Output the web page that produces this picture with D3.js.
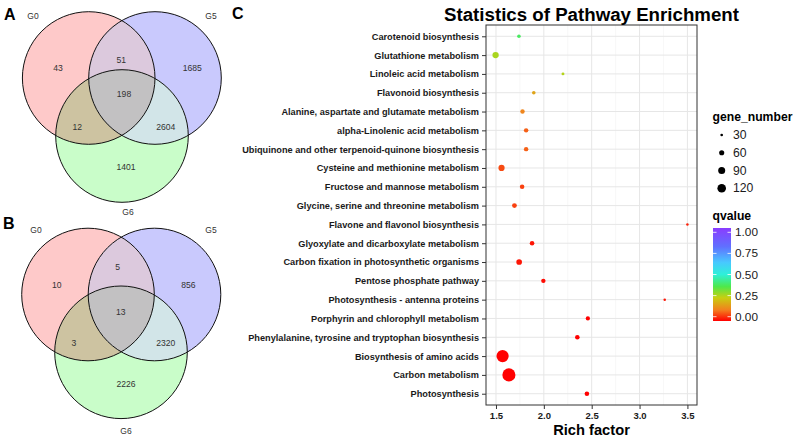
<!DOCTYPE html>
<html>
<head>
<meta charset="utf-8">
<script src="https://cdn.jsdelivr.net/npm/d3@7"></script>
<style>
  html, body { margin: 0; padding: 0; background: #fff; }
  svg { display: block; font-family: "Liberation Sans", Arial, Helvetica, sans-serif; }
  svg text { font-family: "Liberation Sans", Arial, Helvetica, sans-serif; }
</style>
</head>
<body>
<svg id="chart" width="800" height="440"></svg>
<script>
// ---------------- DATA ----------------
const vennSets = ["G0", "G5", "G6"];
// region order: G0 only, G0∩G5, G5 only, all three, G0∩G6, G5∩G6, G6 only
const vennRegions = ["G0", "G0G5", "G5", "G0G5G6", "G0G6", "G5G6", "G6"];
const vennA = [43, 51, 1685, 198, 12, 2604, 1401];
const vennB = [10, 5, 856, 13, 3, 2320, 2226];

const pathways = [
  "Carotenoid biosynthesis",
  "Glutathione metabolism",
  "Linoleic acid metabolism",
  "Flavonoid biosynthesis",
  "Alanine, aspartate and glutamate metabolism",
  "alpha-Linolenic acid metabolism",
  "Ubiquinone and other terpenoid-quinone biosynthesis",
  "Cysteine and methionine metabolism",
  "Fructose and mannose metabolism",
  "Glycine, serine and threonine metabolism",
  "Flavone and flavonol biosynthesis",
  "Glyoxylate and dicarboxylate metabolism",
  "Carbon fixation in photosynthetic organisms",
  "Pentose phosphate pathway",
  "Photosynthesis - antenna proteins",
  "Porphyrin and chlorophyll metabolism",
  "Phenylalanine, tyrosine and tryptophan biosynthesis",
  "Biosynthesis of amino acids",
  "Carbon metabolism",
  "Photosynthesis"
];
const richFactor = [1.74, 1.496, 2.20, 1.895, 1.777, 1.815, 1.815, 1.558, 1.773, 1.693,
                    3.50, 1.877, 1.742, 1.995, 3.263, 2.46, 2.35, 1.569, 1.635, 2.45];
const geneNumber = [40, 78, 32, 40, 50, 50, 50, 76, 52, 55,
                    28, 52, 68, 50, 28, 48, 52, 205, 228, 52];
const qValue = [0.39, 0.28, 0.27, 0.18, 0.13, 0.09, 0.09, 0.07, 0.06, 0.06,
                0.03, 0.02, 0.02, 0.01, 0.02, 0.0, 0.0, 0.0, 0.0, 0.0];

const xTicks = [1.5, 2.0, 2.5, 3.0, 3.5];
const sizeBreaks = [30, 60, 90, 120];
const qBreaks = [0, 0.25, 0.5, 0.75, 1.0];
const qStops = [0, 0.12, 0.25, 0.37, 0.5, 0.63, 0.8, 1.0];
const qColors = ["#ff0000", "#f2801e", "#c8cf10", "#4ee84a", "#2ef0d8", "#48c8ff", "#6070ff", "#8a3cff"];

// ---------------- SVG ----------------
const svg = d3.select("#chart");
const FONT = "'Liberation Sans', Arial, Helvetica, sans-serif";

// ---------------- VENN ----------------
const vennColors = {
  G0: "#fec9c9", G5: "#c9c9fd", G6: "#c9fdc9",
  G0G5: "#dcc9dd", G0G6: "#cdc3a1", G5G6: "#d2e5e8", G0G5G6: "#c2c1c2"
};

function drawVenn(g, id, centers, r, counts, labelPos, countPos) {
  const defs = g.append("defs");
  vennSets.forEach((s, i) => {
    defs.append("clipPath").attr("id", id + s)
      .append("circle").attr("cx", centers[i][0]).attr("cy", centers[i][1]).attr("r", r);
  });
  vennSets.forEach((s, i) => {
    g.append("circle").attr("cx", centers[i][0]).attr("cy", centers[i][1]).attr("r", r)
      .attr("fill", vennColors[s]);
  });
  const pairs = [[0, 1, "G0G5"], [0, 2, "G0G6"], [1, 2, "G5G6"]];
  pairs.forEach(([a, b, k]) => {
    g.append("circle").attr("cx", centers[b][0]).attr("cy", centers[b][1]).attr("r", r)
      .attr("clip-path", `url(#${id}${vennSets[a]})`)
      .attr("fill", vennColors[k]);
  });
  g.append("g").attr("clip-path", `url(#${id}G0)`)
    .append("g").attr("clip-path", `url(#${id}G5)`)
    .append("circle").attr("cx", centers[2][0]).attr("cy", centers[2][1]).attr("r", r)
    .attr("fill", vennColors.G0G5G6);
  vennSets.forEach((s, i) => {
    g.append("circle").attr("cx", centers[i][0]).attr("cy", centers[i][1]).attr("r", r)
      .attr("fill", "none").attr("stroke", "#111").attr("stroke-width", 1);
  });
  vennSets.forEach((s, i) => {
    g.append("text").attr("x", labelPos[i][0]).attr("y", labelPos[i][1])
      .attr("text-anchor", "middle").attr("dominant-baseline", "central")
      .attr("font-size", 8.5).attr("fill", "#333").text(s);
  });
  counts.forEach((c, i) => {
    g.append("text").attr("x", countPos[i][0]).attr("y", countPos[i][1])
      .attr("text-anchor", "middle").attr("dominant-baseline", "central")
      .attr("font-size", 8.6).attr("fill", "#333").text(c);
  });
}

const gA = svg.append("g");
drawVenn(gA, "vA", [[88.7, 78], [155, 78], [122, 136]], 66.3, vennA,
  [[33, 16], [211, 16], [128, 212]],
  [[58, 68.3], [121.3, 60], [192.3, 68.3], [124, 94], [77.3, 126.7], [165.7, 126.7], [126, 166.7]]);

const gB = svg.append("g");
drawVenn(gB, "vB", [[88, 294.5], [154.5, 294.5], [121, 352.3]], 66.3, vennB,
  [[36, 230], [211, 230], [126, 431]],
  [[56.7, 285.3], [117.7, 267.3], [188.3, 285.3], [120.7, 311.7], [74, 342.7], [165.7, 342.7], [126, 384.3]]);

svg.append("text").attr("x", 4).attr("y", 20).attr("font-size", 16).attr("font-weight", "bold").text("A");
svg.append("text").attr("x", 3).attr("y", 228.5).attr("font-size", 16).attr("font-weight", "bold").text("B");
svg.append("text").attr("x", 232).attr("y", 18.5).attr("font-size", 16).attr("font-weight", "bold").text("C");

// ---------------- DOT PLOT ----------------
const plot = { left: 486, right: 697, top: 25, bottom: 405 };
const ext = d3.extent(richFactor);
const pad = (ext[1] - ext[0]) * 0.05;
const x = d3.scaleLinear().domain([ext[0] - pad, ext[1] + pad]).range([plot.left, plot.right]);
const step = (plot.bottom - plot.top) / (pathways.length - 1 + 1.2);
const y = d3.scalePoint().domain(pathways)
  .range([plot.top + 0.6 * step, plot.bottom - 0.6 * step]);
const rScale = d3.scaleSqrt().domain([30, 120]).range([1.35, 4.3]);
const color = d3.scaleLinear().domain(qStops).range(qColors);

const gp = svg.append("g");
gp.append("rect").attr("x", plot.left).attr("y", plot.top)
  .attr("width", plot.right - plot.left).attr("height", plot.bottom - plot.top).attr("fill", "#fff");

const minor = d3.range(1.25, 3.8, 0.5).filter(v => v > x.domain()[0] && v < x.domain()[1]);
gp.selectAll("line.minor").data(minor).enter().append("line")
  .attr("x1", d => x(d)).attr("x2", d => x(d)).attr("y1", plot.top).attr("y2", plot.bottom)
  .attr("stroke", "#f2f2f2").attr("stroke-width", 0.6);
gp.selectAll("line.vmajor").data(xTicks).enter().append("line")
  .attr("x1", d => x(d)).attr("x2", d => x(d)).attr("y1", plot.top).attr("y2", plot.bottom)
  .attr("stroke", "#e6e6e6").attr("stroke-width", 1);
gp.selectAll("line.hmajor").data(pathways).enter().append("line")
  .attr("x1", plot.left).attr("x2", plot.right).attr("y1", d => y(d)).attr("y2", d => y(d))
  .attr("stroke", "#e6e6e6").attr("stroke-width", 1);

const pts = pathways.map((p, i) => ({ p, rf: richFactor[i], n: geneNumber[i], q: qValue[i] }))
  .sort((a, b) => b.n - a.n);
gp.selectAll("circle.pt").data(pts).enter().append("circle")
  .attr("cx", d => x(d.rf)).attr("cy", d => y(d.p)).attr("r", d => rScale(d.n))
  .attr("fill", d => color(d.q));

gp.append("rect").attr("x", plot.left).attr("y", plot.top)
  .attr("width", plot.right - plot.left).attr("height", plot.bottom - plot.top)
  .attr("fill", "none").attr("stroke", "#333").attr("stroke-width", 1);

const yAxis = d3.axisLeft(y).tickSize(4).tickPadding(3);
const yg = svg.append("g").attr("transform", `translate(${plot.left},0)`).call(yAxis)
  .attr("font-family", FONT);
yg.select(".domain").remove();
yg.selectAll("line").attr("stroke", "#333");
yg.selectAll("text").attr("font-size", 9.2).attr("font-weight", "bold").attr("fill", "#1a1a1a")
  .style("font-family", FONT);

const xAxis = d3.axisBottom(x).tickValues(xTicks).tickFormat(d3.format(".1f")).tickSize(4).tickPadding(3);
const xg = svg.append("g").attr("transform", `translate(0,${plot.bottom})`).call(xAxis)
  .attr("font-family", FONT);
xg.select(".domain").remove();
xg.selectAll("line").attr("stroke", "#333");
xg.selectAll("text").attr("font-size", 9.5).attr("font-weight", "bold").attr("fill", "#1a1a1a")
  .style("font-family", FONT);

svg.append("text").attr("x", (plot.left + plot.right) / 2).attr("y", 435)
  .attr("text-anchor", "middle").attr("font-size", 14.7).attr("font-weight", "bold").text("Rich factor");
svg.append("text").attr("x", (plot.left + plot.right) / 2).attr("y", 20.5)
  .attr("text-anchor", "middle").attr("font-size", 18.7).attr("font-weight", "bold")
  .text("Statistics of Pathway Enrichment");

// size legend
const lg = svg.append("g");
lg.append("text").attr("x", 712.5).attr("y", 121).attr("font-size", 12.2).attr("font-weight", "bold")
  .text("gene_number");
const sizeY = d3.scalePoint().domain(sizeBreaks).range([135, 188.3]);
lg.selectAll("circle.sz").data(sizeBreaks).enter().append("circle")
  .attr("cx", 721.7).attr("cy", d => sizeY(d)).attr("r", d => rScale(d)).attr("fill", "#000");
lg.selectAll("text.sz").data(sizeBreaks).enter().append("text")
  .attr("x", 733).attr("y", d => sizeY(d)).attr("dominant-baseline", "central")
  .attr("font-size", 12.2).attr("fill", "#1a1a1a").text(d => d);

// colour legend
lg.append("text").attr("x", 712.5).attr("y", 219.5).attr("font-size", 12.2).attr("font-weight", "bold")
  .text("qvalue");
const defs = svg.append("defs");
const grad = defs.append("linearGradient").attr("id", "qgrad")
  .attr("x1", 0).attr("y1", 1).attr("x2", 0).attr("y2", 0);
qStops.forEach((s, i) => grad.append("stop").attr("offset", s).attr("stop-color", qColors[i]));
const barTop = 228, barBot = 321, barX = 713, barW = 18;
const qy = d3.scaleLinear().domain([0, 1]).range([barBot - 4.3, barTop + 4.3]);
lg.append("rect").attr("x", barX).attr("y", barTop).attr("width", barW).attr("height", barBot - barTop)
  .attr("fill", "url(#qgrad)");
lg.selectAll("g.qt").data(qBreaks).enter().append("g").each(function (d) {
  const g = d3.select(this);
  g.append("line").attr("x1", barX).attr("x2", barX + 3.5).attr("y1", qy(d)).attr("y2", qy(d))
    .attr("stroke", "#fff").attr("stroke-width", 0.8);
  g.append("line").attr("x1", barX + barW - 3.5).attr("x2", barX + barW).attr("y1", qy(d)).attr("y2", qy(d))
    .attr("stroke", "#fff").attr("stroke-width", 0.8);
});
lg.selectAll("text.qt").data(qBreaks).enter().append("text")
  .attr("x", 735).attr("y", d => qy(d)).attr("dominant-baseline", "central")
  .attr("font-size", 11.8).attr("fill", "#1a1a1a").text(d => d3.format(".2f")(d));
</script>
</body>
</html>
